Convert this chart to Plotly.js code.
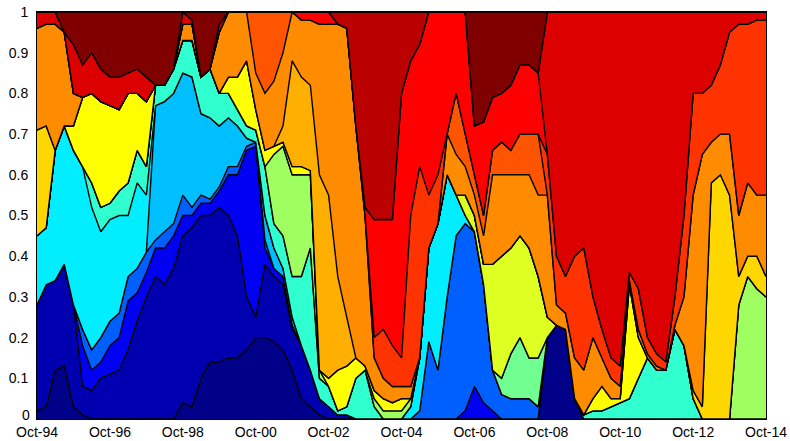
<!DOCTYPE html>
<html><head><meta charset="utf-8">
<script src="https://cdn.plot.ly/plotly-3.0.1.min.js"></script>
<style>html,body{margin:0;padding:0;background:#fff}</style>
</head><body><div id="chart" style="width:790px;height:441px"></div>
<script>
const n = null;
// Quarterly dates Oct-94 .. Oct-14
const dates = [];
for (let i = 0; i <= 80; i++) { const m = 9 + 3 * i; const yr = 1994 + Math.floor(m / 12); const mo = (m % 12) + 1; dates.push(yr + '-' + String(mo).padStart(2, '0') + '-01'); }
const tickDates = ['1994-10-01','1996-10-01','1998-10-01','2000-10-01','2002-10-01','2004-10-01','2006-10-01','2008-10-01','2010-10-01','2012-10-01','2014-10-01'];
const tickLabels = ['Oct-94','Oct-96','Oct-98','Oct-00','Oct-02','Oct-04','Oct-06','Oct-08','Oct-10','Oct-12','Oct-14'];
const yTicks = [0.1,0.2,0.3,0.4,0.5,0.6,0.7,0.8,0.9,1];
const yLabels = ['0.1','0.2','0.3','0.4','0.5','0.6','0.7','0.8','0.9','1'];

// Upper edge of each band (cumulative share); null = band has zero width at that date
const L1 = [.02,.03,.12,.13,.03,.01,0,0,0,0,
 0,0,0,0,0,0,.04,.03,.1,.14,
 .14,.15,.15,.17,.2,.2,.19,.17,.12,.05,
 .03,.01,0,0,0,0,0,0,0,0,
 0,0,0,0,0,0,0,0,0,0,
 0,0,0,0,0,0,.2,.23,.22,.05,
 0,0,0,0,0,0,0,0,0,0,
 0,0,0,0,0,0,0,0,0,0,
 0];
const L2 = [.28,.33,.34,.38,.28,.08,.07,.1,.11,.12,
 .17,.24,.3,.35,.33,.37,.45,.47,.5,.5,
 .52,.5,.45,.3,.25,.38,.35,.33,.22,.18,
 .12,.05,.03,.01,.01,n,n,n,n,n,
 n,n,n,n,n,n,n,n,n,n,
 n,n,n,n,n,n,n,n,n,n,
 n,n,n,n,n,n,n,n,n,n,
 n,n,n,n,n,n,n,n,n,n,
 n];
const L3 = [n,n,n,n,n,.18,.12,.14,.18,.2,
 .29,.31,.36,.42,.42,.45,.5,.5,.53,.53,
 .56,.6,.6,.66,.67,.42,.37,.35,.23,n,
 n,n,n,n,n,n,n,n,n,n,
 n,n,n,n,n,n,n,.02,.08,.04,
 .02,n,n,n,n,n,n,n,n,n,
 n,n,n,n,n,n,n,n,n,n,
 n,n,n,n,n,n,n,n,n,n,
 n];
const L4 = [n,n,n,n,n,.22,.17,.2,.24,.26,
 .35,.37,.41,.44,.46,.48,.55,.52,.55,.54,
 .57,.62,.62,.67,.68,.44,n,n,n,n,
 n,n,n,n,n,n,n,n,n,n,
 n,n,.02,.19,.12,.3,.45,.48,.46,.33,
 .12,.06,.05,.05,.05,.03,n,n,n,n,
 n,n,n,n,n,n,n,n,n,n,
 n,n,n,n,n,n,n,n,n,n,
 n];
const L5 = [n,n,n,n,n,n,n,n,n,n,
 n,n,n,.77,.78,.8,.85,.84,.75,.74,
 .72,.74,.72,.69,.68,.5,.42,.37,.25,n,
 n,n,n,n,n,n,n,n,n,n,
 n,n,n,n,n,n,n,n,n,n,
 n,n,n,n,n,n,n,n,n,n,
 n,n,n,n,n,n,n,n,n,n,
 n,n,n,n,n,n,n,n,n,n,
 n];
const L6 = [.45,.47,.66,.72,.66,.62,.52,.46,.49,.5,
 .5,.58,.55,n,n,n,n,n,n,n,
 n,n,n,n,n,n,n,n,n,n,
 n,n,n,n,n,n,n,n,n,n,
 n,.03,.15,.42,.48,.6,.55,.5,n,n,
 n,n,n,n,n,n,n,n,n,n,
 n,n,n,n,n,n,n,n,n,n,
 n,n,n,n,n,n,n,n,n,n,
 n];
const L7 = [n,n,n,n,n,n,.58,.52,.53,.56,
 .58,.66,.62,.82,.82,.86,.93,.93,.84,.86,
 .8,.8,.76,.72,.71,.62,.48,.45,.35,.35,
 .42,.1,.08,.02,.03,.1,.12,.03,n,n,
 n,n,n,n,n,n,n,n,n,n,
 n,n,n,n,n,n,n,n,n,n,
 .01,.02,.02,.03,.04,.05,.1,.15,.12,.12,
 .22,.18,.05,n,n,n,n,n,n,n,
 n];
const L8 = [n,n,n,n,n,n,n,n,n,n,
 n,n,n,n,n,n,n,n,n,n,
 n,n,n,n,n,n,n,n,n,n,
 n,n,n,n,n,n,n,n,n,n,
 n,n,n,n,n,n,n,n,n,n,
 n,.1,.16,.2,.15,.15,n,n,n,n,
 n,n,n,n,n,n,n,n,n,n,
 n,n,n,n,n,n,n,n,n,n,
 n];
const L9 = [n,n,n,n,n,n,n,n,n,n,
 n,n,n,n,n,n,n,n,n,n,
 n,n,n,n,n,.62,.65,.67,.6,.6,
 .6,.12,n,n,n,n,n,.05,.02,.02,
 .02,.05,n,n,n,n,n,n,n,n,
 n,n,n,n,n,n,n,n,n,n,
 n,n,n,n,n,n,n,n,n,n,
 n,n,n,n,n,n,n,.28,.35,.32,
 .3];
const L10 = [n,n,n,n,n,n,n,n,n,n,
 n,n,n,n,n,n,n,n,n,n,
 n,n,n,n,n,n,n,n,n,n,
 n,n,n,n,n,n,n,n,n,n,
 n,n,n,n,n,n,n,.55,.5,.38,
 .38,.4,.42,.45,.42,.35,.25,n,n,n,
 n,n,n,n,n,n,n,n,n,n,
 n,n,n,n,n,n,n,n,n,n,
 n];
const L11 = [n,n,n,n,.72,.79,.8,.78,.77,.76,
 .8,.8,.78,n,n,n,n,n,n,n,
 n,.84,.84,.88,.76,.66,.67,.68,.62,.62,
 .61,n,.1,.12,.13,.15,.13,.07,.05,.04,
 .05,n,n,n,n,n,n,n,n,n,
 n,n,n,n,n,n,n,n,n,n,
 n,.05,.08,.05,.05,.33,.2,n,n,n,
 n,n,n,n,n,n,n,n,n,n,
 n];
const L12 = [.71,.72,n,n,n,n,n,n,n,n,
 n,n,n,n,n,n,n,n,n,n,
 n,n,n,n,n,n,n,n,n,n,
 n,n,n,n,n,n,n,n,n,n,
 n,n,n,n,n,n,n,n,n,n,
 n,n,n,n,n,n,n,n,n,n,
 n,n,n,n,n,n,n,n,n,n,
 n,n,.07,.03,.58,.6,.55,.35,.4,.4,
 .35];
const L13 = [n,n,n,n,n,n,n,n,n,n,
 n,n,n,n,n,n,n,n,n,n,
 n,n,n,n,n,n,n,.72,.88,.84,
 .82,.6,.55,.35,.25,n,n,n,n,n,
 n,n,n,n,n,n,n,n,n,n,
 n,n,n,n,n,n,n,n,n,n,
 n,n,n,n,n,n,n,n,n,n,
 n,n,n,n,n,n,n,n,n,n,
 n];
const L14 = [.96,.97,.97,.95,.8,n,n,n,n,n,
 n,n,n,n,n,n,.97,.97,n,n,
 .95,1,1,1,.85,.8,.83,.9,1,.98,
 .98,.97,.97,.97,.96,.72,.5,.15,.1,.08,
 .08,.08,n,n,n,.7,.65,.62,.55,.45,
 .6,.6,.6,.6,.6,.55,.55,.28,.26,.15,
 .12,.2,.15,.1,.08,.34,.22,.16,.13,n,
 .23,.3,.55,.65,.68,.7,.7,.5,.58,.55,
 .55];
const L15 = [n,n,n,n,n,n,n,n,n,n,
 n,n,n,n,n,n,n,n,n,n,
 n,n,n,n,1,1,1,1,n,n,
 n,n,n,n,n,n,n,n,n,n,
 n,n,n,n,n,n,.8,.7,.6,.5,
 .66,.68,.66,.7,.7,.7,n,n,n,n,
 n,n,n,n,n,n,n,n,n,n,
 n,n,n,n,n,n,n,n,n,n,
 n];
const L16 = [n,n,n,n,n,n,n,n,n,n,
 n,n,n,n,n,n,n,n,n,n,
 n,n,n,n,n,n,n,n,n,n,
 n,n,n,n,n,n,n,.2,.22,.18,
 .15,.5,.62,.55,.6,n,n,n,n,n,
 n,n,n,n,n,n,.65,.4,.35,.4,
 .42,.3,.22,.15,.13,.36,.32,.2,.16,.14,
 .3,.5,.8,.8,.82,.87,.95,.97,.97,.98,
 .98];
const L17 = [n,n,n,n,n,n,n,n,n,n,
 n,n,n,n,n,n,n,n,n,n,
 n,n,n,n,n,n,n,n,n,1,
 1,1,1,n,n,n,.52,.49,.49,.49,
 .8,.88,.92,1,1,1,1,1,.72,.73,
 .79,.8,.82,.87,.87,.85,n,n,n,n,
 n,n,n,n,n,n,n,n,n,n,
 n,n,n,n,n,n,n,n,n,n,
 n];
const L18 = [1,1,1,.95,.92,.87,.9,.86,.84,.84,
 .85,.86,.84,n,n,n,1,.98,n,n,
 .97,n,n,n,n,n,n,n,n,n,
 n,n,n,n,n,n,n,n,n,n,
 n,n,n,n,n,n,n,n,n,n,
 n,n,n,n,n,n,1,1,1,1,
 1,1,1,1,1,1,1,1,1,1,
 1,1,1,1,1,1,1,1,1,1,
 1];
const L19 = [n,n,n,n,n,n,n,n,n,n,
 n,n,n,n,n,n,n,n,n,n,
 n,n,n,n,n,n,n,n,n,n,
 n,n,n,1,1,1,1,1,1,1,
 1,1,1,n,n,n,n,n,n,n,
 n,n,n,n,n,n,n,n,n,n,
 n,n,n,n,n,n,n,n,n,n,
 n,n,n,n,n,n,n,n,n,n,
 n];
const L20 = [1,1,1,1,1,1,1,1,1,1,
 1,1,1,1,1,1,1,1,1,1,
 1,1,1,1,1,1,1,1,1,1,
 1,1,1,1,1,1,1,1,1,1,
 1,1,1,1,1,1,1,1,1,1,
 1,1,1,1,1,1,1,1,1,1,
 1,1,1,1,1,1,1,1,1,1,
 1,1,1,1,1,1,1,1,1,1,
 1];

const layers = [L1,L2,L3,L4,L5,L6,L7,L8,L9,L10,L11,L12,L13,L14,L15,L16,L17,L18,L19,L20];
const colors = ['#000088','#0000B0','#0000F2','#0060FF','#00BFFF','#00EEFF','#30FFD0','#70FF90','#A0FF60','#DDFF22',
                '#FFFF00','#FFD700','#FFAF00','#FF8C00','#FF5500','#FF3300','#FF0000','#DD0000','#BB0000','#800000'];

const traces = [];
let prev = dates.map(() => 0);
layers.forEach((arr, k) => {
  const y = arr.map((v, i) => (v === null ? prev[i] : v));
  traces.push({
    x: dates, y: y, type: 'scatter', mode: 'lines',
    fill: k === 0 ? 'tozeroy' : 'tonexty',
    fillcolor: colors[k],
    line: {color: '#000000', width: 1.4},
    hoverinfo: 'skip', showlegend: false
  });
  prev = y;
});

const font = {family: 'Liberation Sans, Arial, sans-serif', size: 14, color: '#000'};
const layout = {
  width: 790, height: 441,
  margin: {l: 37, r: 24, t: 12, b: 22, pad: 0},
  paper_bgcolor: '#fff', plot_bgcolor: '#fff',
  showlegend: false,
  xaxis: {type: 'date', range: ['1994-10-01', '2014-10-01'], tickvals: tickDates, ticktext: tickLabels,
          showgrid: false, zeroline: false, showline: true, linecolor: '#000', linewidth: 1, mirror: true,
          ticks: '', tickfont: font, ticklabelstandoff: 0},
  yaxis: {range: [0, 1], tickvals: yTicks, ticktext: yLabels, showgrid: false, zeroline: false,
          showline: true, linecolor: '#000', linewidth: 1, mirror: true, ticks: '', tickfont: font, ticklabelstandoff: 5},
  annotations: [{text: '0', xref: 'paper', x: 0, xanchor: 'right', xshift: -5, yref: 'y', y: 0, yanchor: 'middle',
                 yshift: 4, showarrow: false, font: font}]
};
Plotly.newPlot('chart', traces, layout, {displayModeBar: false, staticPlot: true});
</script>
</body></html>
